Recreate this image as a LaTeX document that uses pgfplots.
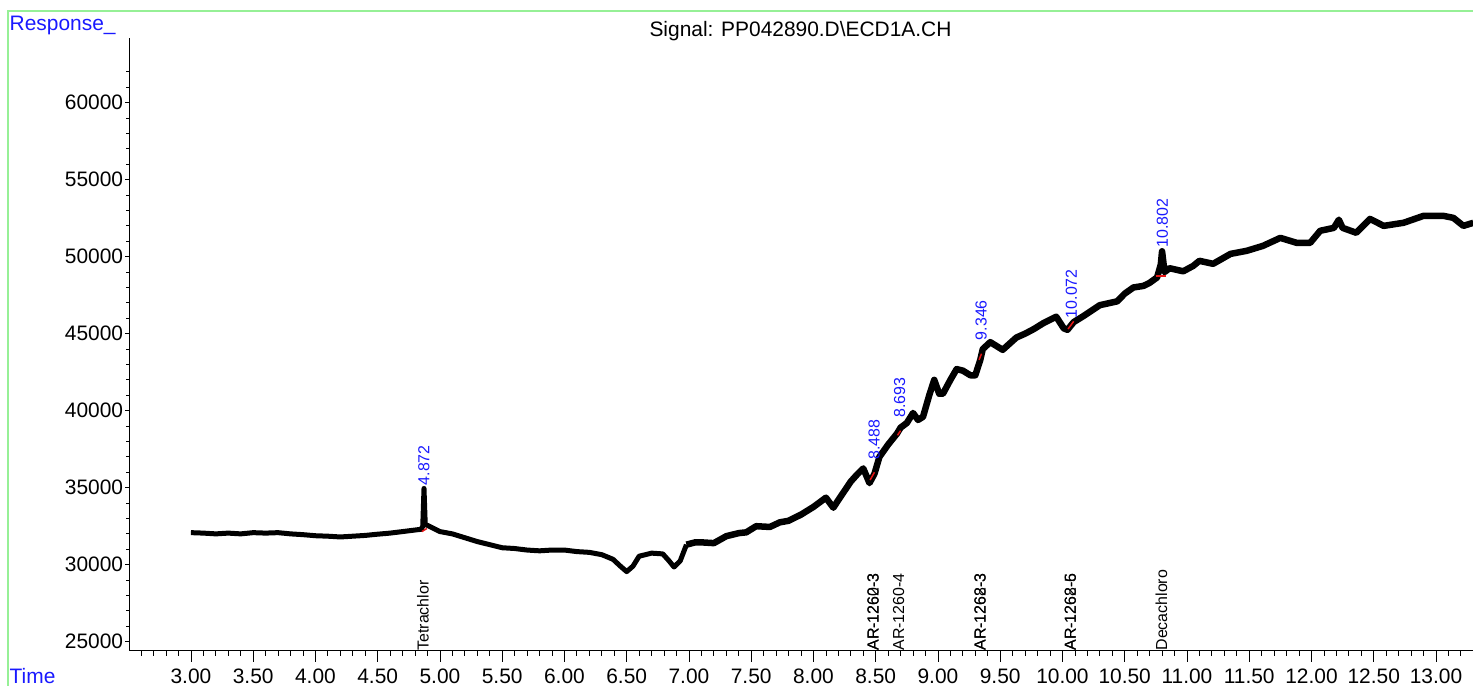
\documentclass[border=0pt]{standalone}
\usepackage{fontspec}
\setmainfont{Liberation Sans}
\usepackage{pgfplots}
\pgfplotsset{compat=1.18}
\definecolor{framegreen}{RGB}{150,240,150}
\definecolor{lblue}{RGB}{25,25,255}
\definecolor{pkred}{RGB}{230,20,20}
\newcommand{\fbig}{\fontsize{21}{25}\selectfont}
\newcommand{\fsmall}{\fontsize{16}{19}\selectfont}
\pgfplotstableread{
t v
3.00 32080
3.10 32050
3.20 32000
3.30 32050
3.40 32000
3.50 32080
3.60 32050
3.70 32080
3.80 32000
3.90 31950
4.00 31880
4.10 31850
4.20 31800
4.30 31850
4.40 31900
4.50 31980
4.60 32050
4.70 32150
4.80 32250
4.85 32300
4.862 32500
4.872 34950
4.882 32600
4.90 32550
4.95 32350
5.00 32150
5.10 32000
5.20 31750
5.30 31500
5.40 31300
5.50 31100
5.60 31050
5.70 30950
5.80 30900
5.90 30950
6.00 30950
6.10 30850
6.20 30800
6.30 30650
6.39 30350
6.45 29900
6.50 29550
6.55 29900
6.60 30550
6.70 30750
6.79 30700
6.84 30250
6.88 29850
6.93 30250
6.98 31300
}\traceA
\pgfplotstableread{
t v
6.98 31300
7.05 31450
7.10 31450
7.20 31400
7.30 31850
7.40 32050
7.46 32100
7.54 32500
7.65 32450
7.73 32750
7.80 32850
7.90 33250
8.00 33750
8.10 34350
8.16 33700
8.20 34200
8.25 34800
8.30 35400
8.35 35850
8.40 36250
8.45 35300
8.49 35900
8.53 37000
8.60 37800
8.67 38500
8.70 38900
8.75 39200
8.80 39850
8.84 39400
8.88 39600
8.93 41000
8.97 42000
9.01 41100
9.04 41100
9.10 42000
9.15 42700
9.20 42600
9.26 42300
9.30 42300
9.34 43300
9.36 44000
9.42 44450
9.52 43950
9.63 44750
9.70 45000
9.77 45300
9.85 45700
9.95 46100
10.01 45350
10.04 45250
10.09 45750
10.17 46150
10.30 46850
10.44 47100
10.50 47600
10.57 48000
10.65 48100
10.70 48300
10.76 48650
10.79 49500
10.80 50350
10.82 49000
10.86 49250
10.97 49050
11.05 49400
11.10 49730
11.21 49535
11.35 50180
11.48 50380
11.61 50700
11.75 51220
11.88 50900
11.99 50900
12.07 51680
12.18 51870
12.22 52400
12.25 51870
12.36 51550
12.47 52450
12.58 52000
12.74 52200
12.90 52650
13.06 52650
13.14 52520
13.22 52000
13.30 52200
}\traceB
\begin{document}
\begin{tikzpicture}[x=1bp,y=1bp]
\begin{axis}[at={(0,0)}, anchor=south west, scale only axis,
  width=1344bp, height=612.4bp,
  xmin=2.505, xmax=13.3, ymin=24415, ymax=64180,
  axis x line=bottom, axis y line=left,
  axis line style={-, line width=0.9bp},
  tick align=outside, major tick length=11bp, minor tick length=5bp,
  tick style={line width=0.8bp, black},
  xtick={3,3.5,4,4.5,5,5.5,6,6.5,7,7.5,8,8.5,9,9.5,10,10.5,11,11.5,12,12.5,13},
  minor xtick={2.6,2.7,2.8,2.9,3.1,3.2,3.3,3.4,3.6,3.7,3.8,3.9,4.1,4.2,4.3,4.4,4.6,4.7,4.8,4.9,5.1,5.2,5.3,5.4,5.6,5.7,5.8,5.9,6.1,6.2,6.3,6.4,6.6,6.7,6.8,6.9,7.1,7.2,7.3,7.4,7.6,7.7,7.8,7.9,8.1,8.2,8.3,8.4,8.6,8.7,8.8,8.9,9.1,9.2,9.3,9.4,9.6,9.7,9.8,9.9,10.1,10.2,10.3,10.4,10.6,10.7,10.8,10.9,11.1,11.2,11.3,11.4,11.6,11.7,11.8,11.9,12.1,12.2,12.3,12.4,12.6,12.7,12.8,12.9,13.1,13.2},
  ytick=\empty,
  xticklabel style={font=\fbig, inner sep=0, anchor=base, yshift=-22bp,
    /pgf/number format/.cd, fixed, fixed zerofill, precision=2, assume math mode=true},
  clip=false,
]
\coordinate (SW) at (rel axis cs:0,0);
\addplot[black, line width=5bp, line join=round] table[x=t, y=v] {\traceA};
\addplot[black, line width=6.5bp, line join=round] table[x=t, y=v] {\traceB};
\addplot[pkred, line width=1.5bp] coordinates {(4.855,32150) (4.895,32350)};
\addplot[pkred, line width=1.5bp] coordinates {(8.455,35500) (8.49,36000)};
\addplot[pkred, line width=1.5bp] coordinates {(8.675,38400) (8.70,38700)};
\addplot[pkred, line width=1.5bp] coordinates {(9.33,43300) (9.35,43700)};
\addplot[pkred, line width=1.5bp] coordinates {(10.045,45300) (10.09,45800)};
\addplot[pkred, line width=1.5bp] coordinates {(10.75,48730) (10.83,48730)};
\begin{scope}[every node/.style={lblue, rotate=90, anchor=west, inner sep=0, font=\fsmall}]
\node at (4.872,35150) {4.872};
\node at (8.488,36800) {8.488};
\node at (8.693,39550) {8.693};
\node at (9.346,44570) {9.346};
\node at (10.072,46000) {10.072};
\node at (10.802,50570) {10.802};
\end{scope}
\begin{scope}[every node/.style={black, rotate=90, anchor=west, inner sep=0, font=\fsmall, yshift=1bp}]
\node at (4.872,24415) {Tetrachlor};
\node at (8.488,24415) {AR-1260-3};
\node at (8.488,24415) {AR-1262-3};
\node at (8.693,24415) {AR-1260-4};
\node at (9.346,24415) {AR-1268-3};
\node at (9.346,24415) {AR-1262-3};
\node at (10.072,24415) {AR-1268-5};
\node at (10.072,24415) {AR-1262-6};
\node at (10.802,24415) {Decachloro};
\end{scope}
\end{axis}
\begin{axis}[at={(0,0)}, anchor=south west, scale only axis,
  width=1344bp, height=612.4bp,
  xmin=2.505, xmax=13.3, ymin=24415, ymax=64180,
  axis x line=none, axis y line=left,
  axis line style={-, line width=0.9bp},
  tick align=outside, major tick length=4bp, minor tick length=3bp,
  tick style={line width=0.8bp, black},
  xtick=\empty,
  ytick={25000,30000,35000,40000,45000,50000,55000,60000},
  minor ytick={26000,27000,28000,29000,31000,32000,33000,34000,36000,37000,38000,39000,41000,42000,43000,44000,46000,47000,48000,49000,51000,52000,53000,54000,56000,57000,58000,59000,61000,62000},
  scaled y ticks=false,
  yticklabel style={font=\fbig, inner sep=0, anchor=east, xshift=-2bp,
    /pgf/number format/.cd, set thousands separator={}, assume math mode=true},
]
\end{axis}
\pgfresetboundingbox
\begin{scope}[shift={(SW)}, xshift=-129.3bp, yshift=-35.3bp]
\useasboundingbox (0,0) rectangle (1473,686);
\draw[framegreen, line width=1.2bp] (8,-5) -- (8,675) -- (1480,675);
\node[lblue, anchor=base west, inner sep=0, font=\fbig] at (9.5,655.8) {Response\_};
\node[lblue, anchor=base west, inner sep=0, font=\fbig] at (9.5,2) {Time};
\node[anchor=base, inner sep=0, font=\fbig] at (800.5,649.1) {Signal: PP042890.D\textbackslash ECD1A.CH};
\end{scope}
\end{tikzpicture}
\end{document}
